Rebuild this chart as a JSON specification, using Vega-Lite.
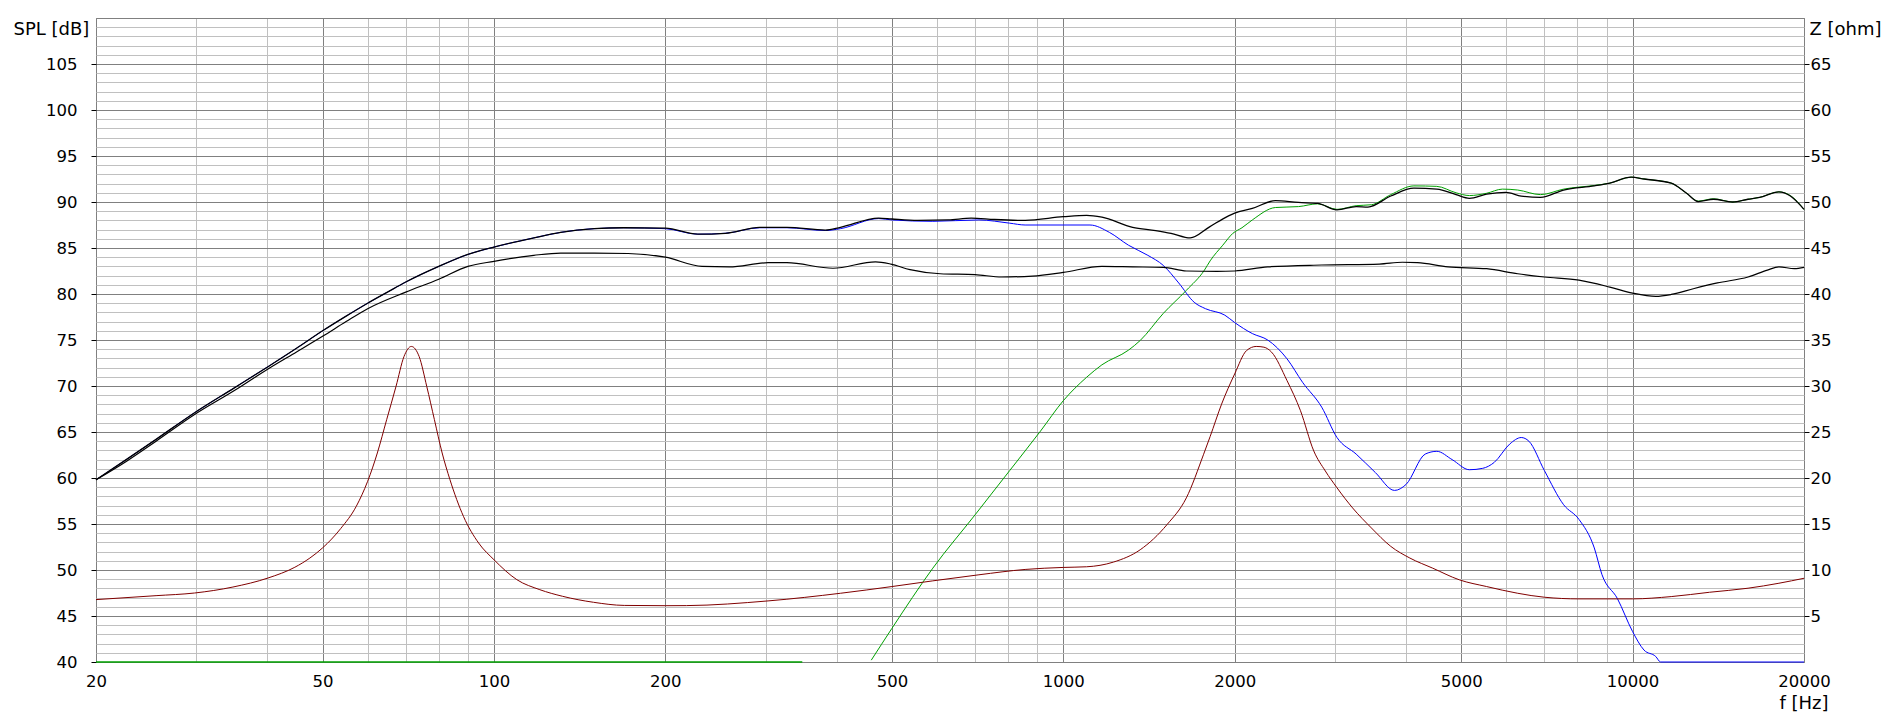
{
  "$schema": "https://vega.github.io/schema/vega-lite/v6.json",
  "description": "SPL and impedance vs frequency",
  "width": 1708,
  "height": 644,
  "autosize": {"type": "none"},
  "padding": {"left": 96, "top": 18, "right": 90, "bottom": 58},
  "background": "#ffffff",
  "config": {
    "view": {"stroke": "#808080", "strokeWidth": 1},
    "font": "DejaVu Sans",
    "axis": {
      "labelFont": "DejaVu Sans",
      "labelFontSize": 16.5,
      "labelColor": "#000000",
      "titleFont": "DejaVu Sans",
      "titleFontSize": 18,
      "titleFontWeight": "normal",
      "titleColor": "#000000",
      "domain": false,
      "tickColor": "#000000",
      "labelOverlap": false,
      "labelFlush": false,
      "labelBound": false
    }
  },
  "datasets": {
    "spl": [
      {"s": "w", "f": 20, "db": 59.8}, {"s": "w", "f": 22.6, "db": 62.0}, {"s": "w", "f": 25.5, "db": 64.2},
      {"s": "w", "f": 29.8, "db": 67.1}, {"s": "w", "f": 35, "db": 69.8}, {"s": "w", "f": 40.1, "db": 72.1},
      {"s": "w", "f": 45, "db": 74.1}, {"s": "w", "f": 50, "db": 76.0}, {"s": "w", "f": 55, "db": 77.6},
      {"s": "w", "f": 60, "db": 79.0}, {"s": "w", "f": 65, "db": 80.2}, {"s": "w", "f": 70, "db": 81.3},
      {"s": "w", "f": 80, "db": 83.0}, {"s": "w", "f": 90, "db": 84.3}, {"s": "w", "f": 100, "db": 85.1},
      {"s": "w", "f": 117.5, "db": 86.1}, {"s": "w", "f": 131, "db": 86.7}, {"s": "w", "f": 150, "db": 87.1},
      {"s": "w", "f": 169, "db": 87.2}, {"s": "w", "f": 200, "db": 87.1}, {"s": "w", "f": 228, "db": 86.5},
      {"s": "w", "f": 255, "db": 86.6}, {"s": "w", "f": 293, "db": 87.2}, {"s": "w", "f": 327, "db": 87.2},
      {"s": "w", "f": 382, "db": 86.9}, {"s": "w", "f": 406, "db": 87.1}, {"s": "w", "f": 474, "db": 88.2},
      {"s": "w", "f": 500, "db": 88.05}, {"s": "w", "f": 590, "db": 87.9}, {"s": "w", "f": 711, "db": 88.05},
      {"s": "w", "f": 805, "db": 87.7}, {"s": "w", "f": 857, "db": 87.5}, {"s": "w", "f": 1000, "db": 87.5},
      {"s": "w", "f": 1114, "db": 87.5}, {"s": "w", "f": 1205, "db": 86.7}, {"s": "w", "f": 1302, "db": 85.3},
      {"s": "w", "f": 1408, "db": 84.2}, {"s": "w", "f": 1499, "db": 83.1}, {"s": "w", "f": 1595, "db": 81.2},
      {"s": "w", "f": 1698, "db": 79.1}, {"s": "w", "f": 1778, "db": 78.4}, {"s": "w", "f": 1922, "db": 77.7},
      {"s": "w", "f": 2000, "db": 76.9}, {"s": "w", "f": 2148, "db": 75.7}, {"s": "w", "f": 2286, "db": 75.0},
      {"s": "w", "f": 2472, "db": 72.95}, {"s": "w", "f": 2632, "db": 70.4}, {"s": "w", "f": 2844, "db": 67.7},
      {"s": "w", "f": 3025, "db": 64.4}, {"s": "w", "f": 3269, "db": 62.6}, {"s": "w", "f": 3532, "db": 60.6},
      {"s": "w", "f": 3817, "db": 58.65}, {"s": "w", "f": 4000, "db": 59.3}, {"s": "w", "f": 4322, "db": 62.6},
      {"s": "w", "f": 4530, "db": 62.9}, {"s": "w", "f": 4819, "db": 62.0}, {"s": "w", "f": 5167, "db": 60.9},
      {"s": "w", "f": 5454, "db": 61.05}, {"s": "w", "f": 5715, "db": 61.7}, {"s": "w", "f": 6085, "db": 63.7},
      {"s": "w", "f": 6374, "db": 64.4}, {"s": "w", "f": 6574, "db": 64.0}, {"s": "w", "f": 7000, "db": 60.8},
      {"s": "w", "f": 7564, "db": 57.1}, {"s": "w", "f": 8050, "db": 55.5}, {"s": "w", "f": 8564, "db": 52.4},
      {"s": "w", "f": 8834, "db": 49.5}, {"s": "w", "f": 9402, "db": 46.9}, {"s": "w", "f": 10000, "db": 43.3},
      {"s": "w", "f": 10470, "db": 41.3}, {"s": "w", "f": 10980, "db": 40.6}, {"s": "w", "f": 11200, "db": 40},
      {"s": "w", "f": 20000, "db": 40},

      {"s": "tf", "f": 20, "db": 40}, {"s": "tf", "f": 348, "db": 40},

      {"s": "t", "f": 460, "db": 40.2}, {"s": "t", "f": 500, "db": 43.65}, {"s": "t", "f": 590, "db": 50.2},
      {"s": "t", "f": 700, "db": 56.0}, {"s": "t", "f": 805, "db": 60.8}, {"s": "t", "f": 912, "db": 65.1},
      {"s": "t", "f": 1000, "db": 68.4}, {"s": "t", "f": 1099, "db": 70.95}, {"s": "t", "f": 1169, "db": 72.3},
      {"s": "t", "f": 1302, "db": 73.9}, {"s": "t", "f": 1365, "db": 74.95}, {"s": "t", "f": 1499, "db": 77.9},
      {"s": "t", "f": 1645, "db": 80.4}, {"s": "t", "f": 1770, "db": 82.6}, {"s": "t", "f": 1811, "db": 83.6},
      {"s": "t", "f": 1906, "db": 85.3}, {"s": "t", "f": 1986, "db": 86.6}, {"s": "t", "f": 2060, "db": 87.2},
      {"s": "t", "f": 2148, "db": 88.05}, {"s": "t", "f": 2358, "db": 89.4}, {"s": "t", "f": 2589, "db": 89.5},
      {"s": "t", "f": 2798, "db": 89.8}, {"s": "t", "f": 3025, "db": 89.2}, {"s": "t", "f": 3269, "db": 89.6},
      {"s": "t", "f": 3477, "db": 89.7}, {"s": "t", "f": 3760, "db": 90.8}, {"s": "t", "f": 4129, "db": 91.75},
      {"s": "t", "f": 4530, "db": 91.7}, {"s": "t", "f": 4897, "db": 91.0}, {"s": "t", "f": 5167, "db": 90.7},
      {"s": "t", "f": 5541, "db": 90.95}, {"s": "t", "f": 5905, "db": 91.4}, {"s": "t", "f": 6284, "db": 91.3},
      {"s": "t", "f": 6890, "db": 90.8}, {"s": "t", "f": 7564, "db": 91.4}, {"s": "t", "f": 8564, "db": 91.8},
      {"s": "t", "f": 9120, "db": 92.05}, {"s": "t", "f": 9939, "db": 92.7}, {"s": "t", "f": 10479, "db": 92.5},
      {"s": "t", "f": 11690, "db": 92.05}, {"s": "t", "f": 12440, "db": 90.95}, {"s": "t", "f": 13040, "db": 90.1},
      {"s": "t", "f": 13870, "db": 90.35}, {"s": "t", "f": 14990, "db": 90.0}, {"s": "t", "f": 15950, "db": 90.3},
      {"s": "t", "f": 16710, "db": 90.5}, {"s": "t", "f": 18070, "db": 91.1}, {"s": "t", "f": 18930, "db": 90.7},
      {"s": "t", "f": 20000, "db": 89.2},

      {"s": "l", "f": 20, "db": 59.8}, {"s": "l", "f": 22.6, "db": 61.8}, {"s": "l", "f": 25.5, "db": 64.0},
      {"s": "l", "f": 29.8, "db": 66.9}, {"s": "l", "f": 35, "db": 69.5}, {"s": "l", "f": 40.1, "db": 71.85},
      {"s": "l", "f": 45, "db": 73.7}, {"s": "l", "f": 50, "db": 75.4}, {"s": "l", "f": 55, "db": 77.0},
      {"s": "l", "f": 60, "db": 78.4}, {"s": "l", "f": 70, "db": 80.2}, {"s": "l", "f": 80, "db": 81.6},
      {"s": "l", "f": 90, "db": 83.0}, {"s": "l", "f": 100, "db": 83.55}, {"s": "l", "f": 117.5, "db": 84.2},
      {"s": "l", "f": 131, "db": 84.45}, {"s": "l", "f": 150, "db": 84.45}, {"s": "l", "f": 172, "db": 84.4},
      {"s": "l", "f": 200, "db": 84.0}, {"s": "l", "f": 232, "db": 83.0}, {"s": "l", "f": 259, "db": 82.95},
      {"s": "l", "f": 303, "db": 83.4}, {"s": "l", "f": 327, "db": 83.4}, {"s": "l", "f": 394, "db": 82.8},
      {"s": "l", "f": 468, "db": 83.5}, {"s": "l", "f": 498, "db": 83.25}, {"s": "l", "f": 538, "db": 82.65},
      {"s": "l", "f": 608, "db": 82.2}, {"s": "l", "f": 700, "db": 82.1}, {"s": "l", "f": 780, "db": 81.85},
      {"s": "l", "f": 883, "db": 81.95}, {"s": "l", "f": 1000, "db": 82.35}, {"s": "l", "f": 1169, "db": 83.0},
      {"s": "l", "f": 1324, "db": 82.95}, {"s": "l", "f": 1499, "db": 82.9}, {"s": "l", "f": 1645, "db": 82.5},
      {"s": "l", "f": 1862, "db": 82.45}, {"s": "l", "f": 2000, "db": 82.5}, {"s": "l", "f": 2286, "db": 82.95},
      {"s": "l", "f": 2844, "db": 83.15}, {"s": "l", "f": 3593, "db": 83.25}, {"s": "l", "f": 3940, "db": 83.45},
      {"s": "l", "f": 4190, "db": 83.4}, {"s": "l", "f": 4742, "db": 82.95}, {"s": "l", "f": 5541, "db": 82.75},
      {"s": "l", "f": 6284, "db": 82.2}, {"s": "l", "f": 7000, "db": 81.85}, {"s": "l", "f": 8050, "db": 81.5},
      {"s": "l", "f": 9120, "db": 80.75}, {"s": "l", "f": 10000, "db": 80.1}, {"s": "l", "f": 10980, "db": 79.75},
      {"s": "l", "f": 11690, "db": 79.95}, {"s": "l", "f": 12830, "db": 80.6}, {"s": "l", "f": 14090, "db": 81.2},
      {"s": "l", "f": 15950, "db": 81.85}, {"s": "l", "f": 17250, "db": 82.6}, {"s": "l", "f": 18070, "db": 82.95},
      {"s": "l", "f": 19240, "db": 82.75}, {"s": "l", "f": 20000, "db": 82.9},

      {"s": "u", "f": 20, "db": 59.8}, {"s": "u", "f": 22.6, "db": 62.0}, {"s": "u", "f": 25.5, "db": 64.2},
      {"s": "u", "f": 29.8, "db": 67.1}, {"s": "u", "f": 35, "db": 69.8}, {"s": "u", "f": 40.1, "db": 72.1},
      {"s": "u", "f": 45, "db": 74.1}, {"s": "u", "f": 50, "db": 76.0}, {"s": "u", "f": 55, "db": 77.6},
      {"s": "u", "f": 60, "db": 79.0}, {"s": "u", "f": 65, "db": 80.2}, {"s": "u", "f": 70, "db": 81.3},
      {"s": "u", "f": 80, "db": 83.0}, {"s": "u", "f": 90, "db": 84.3}, {"s": "u", "f": 100, "db": 85.1},
      {"s": "u", "f": 117.5, "db": 86.1}, {"s": "u", "f": 131, "db": 86.7}, {"s": "u", "f": 150, "db": 87.1},
      {"s": "u", "f": 169, "db": 87.2}, {"s": "u", "f": 200, "db": 87.15}, {"s": "u", "f": 228, "db": 86.5},
      {"s": "u", "f": 255, "db": 86.6}, {"s": "u", "f": 293, "db": 87.25}, {"s": "u", "f": 327, "db": 87.25},
      {"s": "u", "f": 382, "db": 86.95}, {"s": "u", "f": 406, "db": 87.25}, {"s": "u", "f": 474, "db": 88.25},
      {"s": "u", "f": 500, "db": 88.15}, {"s": "u", "f": 555, "db": 88.0}, {"s": "u", "f": 628, "db": 88.05},
      {"s": "u", "f": 689, "db": 88.25}, {"s": "u", "f": 757, "db": 88.1}, {"s": "u", "f": 857, "db": 88.0},
      {"s": "u", "f": 1000, "db": 88.4}, {"s": "u", "f": 1099, "db": 88.55}, {"s": "u", "f": 1169, "db": 88.35},
      {"s": "u", "f": 1324, "db": 87.25}, {"s": "u", "f": 1453, "db": 86.9}, {"s": "u", "f": 1546, "db": 86.6},
      {"s": "u", "f": 1671, "db": 86.1}, {"s": "u", "f": 1807, "db": 87.3}, {"s": "u", "f": 1951, "db": 88.5},
      {"s": "u", "f": 2000, "db": 88.8}, {"s": "u", "f": 2148, "db": 89.3}, {"s": "u", "f": 2358, "db": 90.15},
      {"s": "u", "f": 2589, "db": 89.95}, {"s": "u", "f": 2798, "db": 89.85}, {"s": "u", "f": 3025, "db": 89.15},
      {"s": "u", "f": 3269, "db": 89.5}, {"s": "u", "f": 3428, "db": 89.45}, {"s": "u", "f": 3760, "db": 90.65},
      {"s": "u", "f": 4129, "db": 91.5}, {"s": "u", "f": 4530, "db": 91.4}, {"s": "u", "f": 4897, "db": 90.8},
      {"s": "u", "f": 5167, "db": 90.4}, {"s": "u", "f": 5541, "db": 90.85}, {"s": "u", "f": 5992, "db": 91.05},
      {"s": "u", "f": 6374, "db": 90.65}, {"s": "u", "f": 6890, "db": 90.5}, {"s": "u", "f": 7564, "db": 91.3},
      {"s": "u", "f": 8564, "db": 91.75}, {"s": "u", "f": 9120, "db": 92.05}, {"s": "u", "f": 9939, "db": 92.7},
      {"s": "u", "f": 10479, "db": 92.5}, {"s": "u", "f": 11690, "db": 92.05}, {"s": "u", "f": 12440, "db": 90.95},
      {"s": "u", "f": 13040, "db": 90.05}, {"s": "u", "f": 13870, "db": 90.3}, {"s": "u", "f": 14990, "db": 90.0},
      {"s": "u", "f": 15950, "db": 90.3}, {"s": "u", "f": 16710, "db": 90.5}, {"s": "u", "f": 18070, "db": 91.1},
      {"s": "u", "f": 18930, "db": 90.65}, {"s": "u", "f": 20000, "db": 89.2}
    ],
    "imp": [
      {"f": 20, "z": 6.78}, {"f": 25.5, "z": 7.21}, {"f": 29.8, "z": 7.5}, {"f": 34.8, "z": 8.15},
      {"f": 40.1, "z": 9.13}, {"f": 44.7, "z": 10.3}, {"f": 47.5, "z": 11.3}, {"f": 50, "z": 12.4},
      {"f": 53.8, "z": 14.5}, {"f": 57.3, "z": 16.92}, {"f": 60, "z": 19.64}, {"f": 62.4, "z": 22.72},
      {"f": 64.8, "z": 26.34}, {"f": 67.3, "z": 29.96}, {"f": 69.5, "z": 33.2}, {"f": 71.6, "z": 34.3},
      {"f": 73.9, "z": 33.2}, {"f": 76.2, "z": 29.96}, {"f": 78.6, "z": 26.34}, {"f": 81.1, "z": 22.72},
      {"f": 83.7, "z": 19.82}, {"f": 88.4, "z": 15.83}, {"f": 94, "z": 12.93}, {"f": 100, "z": 11.12},
      {"f": 109.7, "z": 8.95}, {"f": 120.4, "z": 7.86}, {"f": 132, "z": 7.14}, {"f": 149.6, "z": 6.49},
      {"f": 169.4, "z": 6.15}, {"f": 200, "z": 6.12}, {"f": 218, "z": 6.13}, {"f": 303, "z": 6.64},
      {"f": 406, "z": 7.47}, {"f": 500, "z": 8.2}, {"f": 590, "z": 8.82}, {"f": 711, "z": 9.48},
      {"f": 857, "z": 10.06}, {"f": 1000, "z": 10.28}, {"f": 1099, "z": 10.35}, {"f": 1225, "z": 10.86},
      {"f": 1365, "z": 12.2}, {"f": 1521, "z": 14.93}, {"f": 1645, "z": 17.84}, {"f": 1764, "z": 22.58},
      {"f": 1811, "z": 24.5}, {"f": 1897, "z": 28.03}, {"f": 2000, "z": 31.31}, {"f": 2099, "z": 33.86},
      {"f": 2182, "z": 34.3}, {"f": 2251, "z": 34.22}, {"f": 2322, "z": 33.68}, {"f": 2472, "z": 30.58},
      {"f": 2610, "z": 27.31}, {"f": 2754, "z": 22.94}, {"f": 2886, "z": 20.76}, {"f": 3025, "z": 18.94},
      {"f": 3222, "z": 16.75}, {"f": 3477, "z": 14.57}, {"f": 3760, "z": 12.57}, {"f": 4062, "z": 11.3},
      {"f": 4455, "z": 10.2}, {"f": 4963, "z": 8.93}, {"f": 5541, "z": 8.2}, {"f": 6284, "z": 7.47},
      {"f": 7000, "z": 7.04}, {"f": 8050, "z": 6.86}, {"f": 10000, "z": 6.86}, {"f": 11690, "z": 7.11},
      {"f": 13650, "z": 7.58}, {"f": 15950, "z": 8.02}, {"f": 18070, "z": 8.56}, {"f": 20000, "z": 9.1}
    ]
  },
  "encoding": {
    "x": {
      "field": "f",
      "type": "quantitative",
      "scale": {"type": "log", "domain": [20, 20000], "nice": false},
      "axis": {
        "title": "f [Hz]",
        "values": [20, 30, 40, 50, 60, 70, 80, 90, 100, 200, 300, 400, 500, 600, 700, 800, 900, 1000, 2000, 3000, 4000, 5000, 6000, 7000, 8000, 9000, 10000, 20000],
        "labelExpr": "indexof([20, 50, 100, 200, 500, 1000, 2000, 5000, 10000, 20000], datum.value) >= 0 ? '' + datum.value : ''",
        "tickSize": 0,
        "labelPadding": 11,
        "grid": true,
        "gridWidth": 1,
        "gridColor": {
          "condition": {"test": "indexof([20, 50, 100, 200, 500, 1000, 2000, 5000, 10000, 20000], datum.value) >= 0", "value": "#808080"},
          "value": "#c0c0c0"
        },
        "titleX": 1732,
        "titleY": 41,
        "titleAlign": "right",
        "titleBaseline": "middle"
      }
    }
  },
  "layer": [
    {
      "data": {"name": "spl"},
      "encoding": {
        "y": {
          "field": "db",
          "type": "quantitative",
          "scale": {"domain": [40, 110], "nice": false, "zero": false},
          "axis": {
            "title": "SPL [dB]",
            "values": [40, 41, 42, 43, 44, 45, 46, 47, 48, 49, 50, 51, 52, 53, 54, 55, 56, 57, 58, 59, 60, 61, 62, 63, 64, 65, 66, 67, 68, 69, 70, 71, 72, 73, 74, 75, 76, 77, 78, 79, 80, 81, 82, 83, 84, 85, 86, 87, 88, 89, 90, 91, 92, 93, 94, 95, 96, 97, 98, 99, 100, 101, 102, 103, 104, 105, 106, 107, 108, 109, 110],
            "labelExpr": "datum.value % 5 === 0 && datum.value < 110 ? '' + datum.value : ''",
            "tickSize": 5,
            "tickOpacity": {
              "condition": {"test": "datum.value % 5 === 0 && datum.value < 110", "value": 1},
              "value": 0
            },
            "labelPadding": 14,
            "grid": true,
            "gridWidth": 1,
            "gridColor": {
              "condition": {"test": "datum.value % 5 === 0", "value": "#808080"},
              "value": "#c0c0c0"
            },
            "titleAngle": 0,
            "titleX": -83,
            "titleY": 11,
            "titleAlign": "left",
            "titleBaseline": "middle"
          }
        }
      },
      "layer": [
        {
          "transform": [{"filter": "datum.s === 'w'"}],
          "mark": {"type": "line", "color": "#0000ff", "strokeWidth": 1, "interpolate": "monotone"}
        },
        {
          "transform": [{"filter": "datum.s === 'tf'"}],
          "mark": {"type": "line", "color": "#00a000", "strokeWidth": 1.5}
        },
        {
          "transform": [{"filter": "datum.s === 't'"}],
          "mark": {"type": "line", "color": "#00a000", "strokeWidth": 1, "interpolate": "monotone"}
        },
        {
          "transform": [{"filter": "datum.s === 'l'"}],
          "mark": {"type": "line", "color": "#000000", "strokeWidth": 1.2, "interpolate": "monotone"}
        },
        {
          "transform": [{"filter": "datum.s === 'u'"}],
          "mark": {"type": "line", "color": "#000000", "strokeWidth": 1.3, "interpolate": "monotone"}
        }
      ]
    },
    {
      "data": {"name": "imp"},
      "mark": {"type": "line", "color": "#800000", "strokeWidth": 1, "interpolate": "monotone"},
      "encoding": {
        "y": {
          "field": "z",
          "type": "quantitative",
          "scale": {"domain": [0, 70], "nice": false, "zero": false},
          "axis": {
            "orient": "right",
            "title": "Z [ohm]",
            "values": [5, 10, 15, 20, 25, 30, 35, 40, 45, 50, 55, 60, 65],
            "tickSize": 5,
            "labelPadding": 1,
            "grid": false,
            "titleAngle": 0,
            "titleX": 5,
            "titleY": 11,
            "titleAlign": "left",
            "titleBaseline": "middle"
          }
        }
      }
    }
  ],
  "resolve": {"scale": {"y": "independent"}}
}
